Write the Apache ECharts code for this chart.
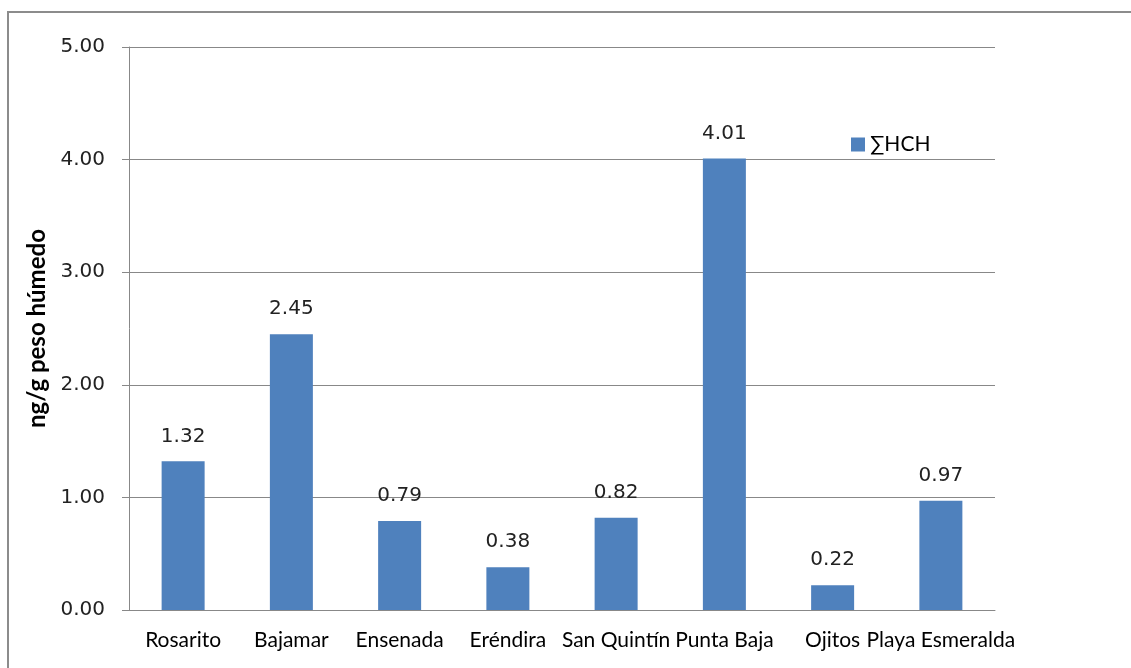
<!DOCTYPE html>
<html>
<head>
<meta charset="utf-8">
<script src="https://cdn.jsdelivr.net/npm/echarts@6/dist/echarts.min.js"></script>
<style>
  html, body { margin: 0; padding: 0; background: #fff; }
  #chart { width: 1131px; height: 668px; }
</style>
</head>
<body>
<div id="chart"></div>
<script>
// Sites sampled and summed HCH concentration (ng/g wet weight)
const sites = ['Rosarito', 'Bajamar', 'Ensenada', 'Eréndira', 'San Quintín', 'Punta Baja', 'Ojitos', 'Playa Esmeralda'];
const hchValues = [1.32, 2.45, 0.79, 0.38, 0.82, 4.01, 0.22, 0.97];
const seriesName = '∑HCH';
const yAxisTitle = 'ng/g peso húmedo';

const TEXT_FONT = 'Lato, "Liberation Sans", sans-serif';
const NUM_FONT = '"DejaVu Sans", sans-serif';
const chart = echarts.init(document.getElementById('chart'));

chart.setOption({
  animation: false,
  backgroundColor: '#ffffff',
  graphic: [{
    type: 'rect',
    shape: { x: 8, y: 12, width: 1200, height: 700 },
    style: { fill: 'none', stroke: '#8c8c8c', lineWidth: 2 },
    silent: true
  }],
  grid: { left: 129, right: 136, top: 47, bottom: 58 },
  legend: {
    data: [seriesName],
    left: 846, top: 129,
    itemWidth: 14, itemHeight: 14, itemGap: 6,
    icon: 'rect',
    textStyle: { fontFamily: TEXT_FONT, fontSize: 21, color: '#000' }
  },
  xAxis: {
    type: 'category',
    data: sites,
    axisLine: { lineStyle: { color: '#888', width: 1 } },
    axisTick: { show: false },
    axisLabel: { interval: 0, fontFamily: TEXT_FONT, fontSize: 21, color: '#000', margin: 20 }
  },
  yAxis: {
    type: 'value',
    min: 0, max: 5, interval: 1,
    name: yAxisTitle,
    nameLocation: 'middle',
    nameGap: 78,
    nameRotate: 90,
    nameTextStyle: { fontFamily: TEXT_FONT, fontSize: 24, fontWeight: 'bold', color: '#000' },
    axisLine: { show: true, lineStyle: { color: '#888', width: 1 } },
    axisTick: { show: true, length: 7, lineStyle: { color: '#888' } },
    axisLabel: { fontFamily: NUM_FONT, fontSize: 20, color: '#222', margin: 24, formatter: v => v.toFixed(2) },
    splitLine: { lineStyle: { color: '#888', width: 1 } }
  },
  series: [{
    name: seriesName,
    type: 'bar',
    data: hchValues,
    barWidth: 43,
    itemStyle: { color: '#4f81bd' },
    label: {
      show: true, position: 'top', distance: 15,
      fontFamily: NUM_FONT, fontSize: 20, color: '#222',
      formatter: p => p.value.toFixed(2)
    }
  }]
});
</script>
</body>
</html>
